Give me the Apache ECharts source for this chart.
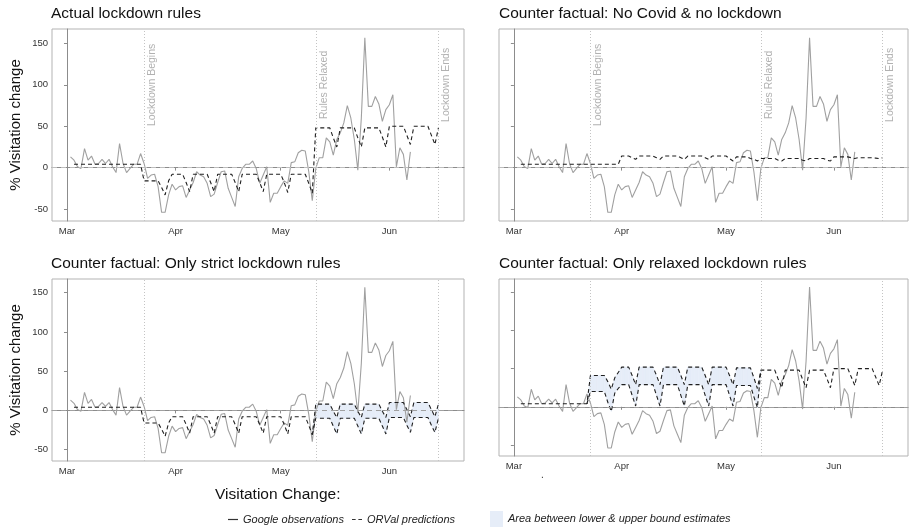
<!DOCTYPE html>
<html>
<head>
<meta charset="utf-8">
<title>Visitation change under lockdown scenarios</title>
<script src="https://cdn.jsdelivr.net/npm/echarts@6/dist/echarts.min.js"></script>
<style>
  html, body { margin: 0; padding: 0; background: #fff; }
  #chart { width: 911px; height: 529px; }
</style>
</head>
<body>
<div id="chart"></div>
<script>
// days are counted from 1 March 2020 (day 0)
const monthTicks = [0, 31, 61, 92];
const monthLabels = ['Mar', 'Apr', 'May', 'Jun'];
const yTicks = [-50, 0, 50, 100, 150];

const eventDays = [22, 71, 106];
const eventLabels = ['Lockdown Begins', 'Rules Relaxed', 'Lockdown Ends'];

const panelTitles = [
  'Actual lockdown rules',
  'Counter factual: No Covid & no lockdown',
  'Counter factual: Only strict lockdown rules',
  'Counter factual: Only relaxed lockdown rules'
];

// Google observations, day 1 .. 98
const obsStartDay = 1;
const obsValues = [
  13, 9, 1, -1, 23, 9, 14, 4, 5, 10,
  5, 10, 1, -6, 29, 5, -6, -1, 4, 4,
  17, 5, -13, -9, -8, -23, -54, -54, -33, -20,
  -27, -23, -22, -36, -27, -18, -5, -9, -11, -19,
  -35, -32, -18, -5, -4, -25, -36, -47, -11, -1,
  4, 4, 8, -1, -19, -9, 1, -42, -31, -31,
  -23, -16, -19, 6, 7, 18, 21, 20, -5, -40,
  -1, 12, 12, 36, 31, 15, 34, 42, 54, 75,
  60, 34, -3, 60, 157, 74, 74, 86, 77, 56,
  70, 76, 88, 1, 24, 16, -15, 19
];

// ORVal predictions start on day 2
const predStartDay = 2;
// before lockdown, day 2 .. 21
const prePred = [4, 4, 4, 4, 4, 4, 4, 4, 4, 4, 4, 4, 4, 4, 4, 4, 4, 4, 4, 4];
// actual strict lockdown, day 22 .. 70
const lockdownPred = [
  -16, -16, -16, -16, -16, -24, -33,
  -16, -8, -8, -8, -8, -18, -29,
  -8, -8, -8, -8, -8, -18, -29,
  -8, -8, -8, -8, -8, -18, -29,
  -8, -8, -8, -8, -8, -18, -29,
  -8, -8, -8, -8, -8, -18, -30,
  -8, -8, -8, -8, -8, -19, -31
];
// actual relaxed rules, day 71 .. 106
const relaxedPred = [
  48, 48, 48, 48, 48, 36, 25,
  48, 48, 48, 48, 48, 36, 25,
  48, 48, 48, 48, 48, 37, 25,
  50, 50, 50, 50, 50, 39, 28,
  50, 50, 50, 50, 50, 39, 28,
  48
];
// no covid & no lockdown, day 2 .. 106
const noCovidPred = [
  4, 4, 4, 4, 4, 4, 4, 4, 4, 4, 4, 4, 4, 4, 4, 4, 4, 4, 4, 4, 4, 4, 4, 4, 4, 4, 4, 4, 4,
  14, 14, 14, 12, 10,
  14, 14, 14, 14, 14, 12, 10,
  14, 14, 14, 14, 14, 12, 10,
  14, 14, 14, 14, 14, 12, 10,
  14, 14, 14, 14, 14, 11, 8,
  13, 13, 13, 13, 11, 10, 8,
  11, 11, 11, 11, 11, 9, 8,
  11, 11, 11, 11, 11, 9, 8,
  11, 11, 11, 11, 11, 9, 8,
  13, 13, 13, 13, 13, 12, 11,
  12, 12, 12, 12, 12, 11.5, 11,
  12
];
// only strict rules after day 71: upper / lower bound
const strictUpper = [
  8, 8, 8, 8, 8, -1, -9,
  8, 8, 8, 8, 8, -1, -9,
  8, 8, 8, 8, 8, -1, -9,
  10, 10, 10, 10, 10, 1, -8,
  10, 10, 10, 10, 10, 1, -8,
  8
];
const strictLower = [
  -10, -10, -10, -10, -10, -20, -30,
  -10, -10, -10, -10, -10, -20, -30,
  -10, -10, -10, -10, -10, -20, -30,
  -9, -9, -9, -9, -9, -19, -28,
  -9, -9, -9, -9, -9, -19, -28,
  -10
];
// only relaxed rules during lockdown, day 22 .. 70: upper / lower bound
const relaxUpper = [
  41, 41, 41, 41, 41, 33, 23,
  38, 45, 52, 52, 52, 41, 29,
  52, 52, 52, 52, 52, 41, 29,
  52, 52, 52, 52, 52, 41, 29,
  52, 52, 52, 52, 52, 41, 29,
  52, 52, 52, 52, 52, 41, 29,
  51, 51, 51, 51, 51, 38, 24
];
const relaxLower = [
  20, 20, 20, 20, 20, 6, -6,
  18, 24, 29, 29, 29, 15, 1,
  29, 29, 29, 29, 29, 15, 1,
  29, 29, 29, 29, 29, 15, 1,
  29, 29, 29, 29, 29, 15, 1,
  29, 29, 29, 29, 29, 15, 1,
  28, 28, 28, 28, 28, 13, -1
];

const FONT = '"Liberation Sans", Arial, sans-serif';
const OBS = 'Google observations';
const PRED = 'ORVal predictions';
const AREA = 'Area between lower & upper bound estimates';
const BAND_FILL = '#e6edf8';

const toPoints = (start, vals) => vals.map((v, i) => [start + i, v]);
const obsPoints = toPoints(obsStartDay, obsValues);

const actualPred = prePred.concat(lockdownPred, relaxedPred);
const strictUp = prePred.concat(lockdownPred, strictUpper);
const strictLo = prePred.concat(lockdownPred, strictLower);
const relaxUp = prePred.concat(relaxUpper, relaxedPred);
const relaxLo = prePred.concat(relaxLower, relaxedPred);

// where the lower bound parts from the upper one it gets its own dashed line
const strictLoStart = predStartDay + prePred.length + lockdownPred.length - 1;
const strictLoOwn = lockdownPred.slice(-1).concat(strictLower);
const relaxLoStart = predStartDay + prePred.length - 1;
const relaxLoOwn = prePred.slice(-1).concat(relaxLower, relaxedPred.slice(0, 1));

const grids = [
  { left: 52, top: 29, width: 412, height: 192 },
  { left: 499, top: 29, width: 409, height: 192 },
  { left: 52, top: 279, width: 412, height: 182 },
  { left: 499, top: 279, width: 409, height: 177 }
];

function makeX(i) {
  return {
    type: 'value', gridIndex: i, min: -4.28, max: 113.3,
    axisLine: { show: true, lineStyle: { color: '#8c8c8c', width: 1 } },
    axisTick: { show: true, customValues: monthTicks, length: 3, lineStyle: { color: '#8c8c8c' } },
    axisLabel: {
      show: true, customValues: monthTicks, margin: 5,
      formatter: v => monthLabels[monthTicks.indexOf(v)],
      color: '#333', fontSize: 9.5, fontFamily: FONT
    },
    splitLine: { show: false }
  };
}

function makeY(i, labels) {
  return {
    type: 'value', gridIndex: i, min: -64.5, max: 167.5,
    name: labels ? '% Visitation change' : '',
    nameLocation: 'middle', nameGap: 29, nameRotate: 90,
    nameTextStyle: { fontSize: 15, color: '#111', fontFamily: FONT },
    axisLine: { show: true, lineStyle: { color: '#8c8c8c', width: 1 } },
    axisTick: { show: true, customValues: yTicks, length: 3, lineStyle: { color: '#8c8c8c' } },
    axisLabel: { show: labels, customValues: yTicks, margin: 4, color: '#333', fontSize: 9.5, fontFamily: FONT },
    splitLine: { show: false }
  };
}

function obsSeries(i, zeroColor) {
  return {
    name: OBS, type: 'line', xAxisIndex: i, yAxisIndex: i,
    data: obsPoints, symbol: 'none', z: 3,
    itemStyle: { color: '#333' },
    lineStyle: { color: '#a0a0a0', width: 1.1 },
    markLine: {
      silent: true, symbol: 'none', animation: false,
      label: { show: false },
      data: [{ yAxis: 0, lineStyle: { color: zeroColor, type: [5, 4], width: 1 } }].concat(
        eventDays.map(d => ({ xAxis: d, lineStyle: { color: '#c4c4c4', type: [1, 2], width: 1 } }))
      )
    }
  };
}

function predSeries(i, start, vals) {
  return {
    name: PRED, type: 'line', xAxisIndex: i, yAxisIndex: i,
    data: toPoints(start, vals), symbol: 'none', z: 4,
    itemStyle: { color: '#333' },
    lineStyle: { color: '#1f1f1f', width: 1.1, type: [4, 3] }
  };
}

function bandSeries(i, upper, lower) {
  const rows = upper.map((u, k) => [predStartDay + k, u, lower[k]]);
  return {
    name: AREA, type: 'custom', xAxisIndex: i, yAxisIndex: i,
    silent: true, z: 1, clip: true,
    itemStyle: { color: BAND_FILL },
    data: rows,
    encode: { x: 0, y: [1, 2] },
    renderItem: (params, api) => {
      const k = params.dataIndex;
      if (k >= rows.length - 1) return;
      const a = rows[k], b = rows[k + 1];
      if (a[1] === a[2] && b[1] === b[2]) return;
      return {
        type: 'polygon',
        shape: { points: [
          api.coord([a[0], a[1]]), api.coord([b[0], b[1]]),
          api.coord([b[0], b[2]]), api.coord([a[0], a[2]])
        ] },
        style: { fill: BAND_FILL, stroke: BAND_FILL, lineWidth: 0.6 }
      };
    }
  };
}

function eventLabelSeries(i) {
  return {
    type: 'scatter', xAxisIndex: i, yAxisIndex: i, silent: true, z: 5,
    symbolSize: 0,
    data: eventDays.map(d => [d, 100]),
    label: {
      show: true, position: 'inside', rotate: 90, offset: [0, 8],
      formatter: p => eventLabels[p.dataIndex],
      color: '#9e9e9e', fontSize: 10.5, fontFamily: FONT
    }
  };
}

const series = [
  obsSeries(0, '#bdbdbd'), predSeries(0, predStartDay, actualPred), eventLabelSeries(0),
  obsSeries(1, '#bdbdbd'), predSeries(1, predStartDay, noCovidPred), eventLabelSeries(1),
  bandSeries(2, strictUp, strictLo),
  obsSeries(2, '#a0a0a0'), predSeries(2, predStartDay, strictUp), predSeries(2, strictLoStart, strictLoOwn),
  bandSeries(3, relaxUp, relaxLo),
  obsSeries(3, '#a0a0a0'), predSeries(3, predStartDay, relaxUp), predSeries(3, relaxLoStart, relaxLoOwn)
];

const titleStyle = { fontSize: 15.5, fontWeight: 'normal', color: '#111', fontFamily: FONT };
const legendText = { fontSize: 11, fontStyle: 'italic', color: '#222', fontFamily: FONT };

const chart = echarts.init(document.getElementById('chart'), null, { renderer: 'canvas' });
chart.setOption({
  animation: false,
  backgroundColor: '#fff',
  title: [
    { text: panelTitles[0], left: 51, top: 6, padding: 0, textStyle: titleStyle },
    { text: panelTitles[1], left: 499, top: 6, padding: 0, textStyle: titleStyle },
    { text: panelTitles[2], left: 51, top: 256, padding: 0, textStyle: titleStyle },
    { text: panelTitles[3], left: 499, top: 256, padding: 0, textStyle: titleStyle },
    { text: 'Visitation Change:', left: 215, top: 487, padding: 0, textStyle: titleStyle },
    { text: '.', left: 541, top: 470, padding: 0, textStyle: { fontSize: 10, color: '#333', fontWeight: 'normal' } }
  ],
  grid: grids.map(g => Object.assign({ show: true, borderColor: '#b3b3b3', borderWidth: 1, backgroundColor: 'transparent' }, g)),
  xAxis: [0, 1, 2, 3].map(makeX),
  yAxis: [makeY(0, true), makeY(1, false), makeY(2, true), makeY(3, false)],
  legend: [
    {
      data: [{ name: OBS, icon: 'rect', itemStyle: { color: '#333' } }],
      left: 228, top: 514, padding: 0, itemWidth: 10, itemHeight: 1.2, selectedMode: false,
      textStyle: legendText
    },
    {
      data: [{ name: PRED, icon: 'path://M0,0H4V1H0Z M7,0H11V1H7Z', itemStyle: { color: '#333' } }],
      left: 352, top: 514, padding: 0, itemWidth: 10, itemHeight: 1.2, selectedMode: false,
      textStyle: legendText
    },
    {
      data: [{ name: AREA, icon: 'rect', itemStyle: { color: BAND_FILL } }],
      left: 490, top: 511, padding: 0, itemWidth: 13, itemHeight: 16, selectedMode: false,
      textStyle: legendText
    }
  ],
  series: series
});
</script>
</body>
</html>
